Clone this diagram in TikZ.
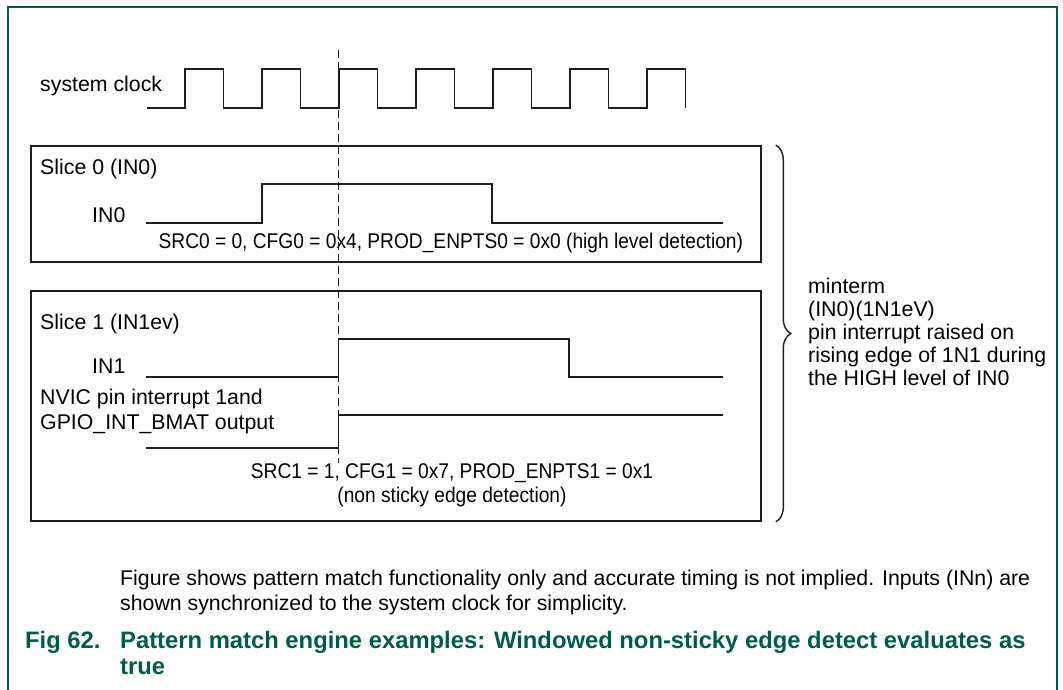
\documentclass[tikz,border=0pt]{standalone}
\usepackage{fontspec}
\setmainfont{Liberation Sans}
\newfontfamily\narrowfont[FakeStretch=0.9]{Liberation Sans}
\usepackage{xcolor}
\usepackage{tikz}
\usetikzlibrary{
  decorations.pathreplacing,
  calc
}
\definecolor{FrameGreen}{HTML}{005B4C}
\definecolor{WaveBlack}{HTML}{1E1E1E}
\newcommand{\diagfont}{\fontsize{21.3}{25}\selectfont}
\newcommand{\capfont}{\fontsize{23.8}{26}\selectfont\bfseries}
\tikzset{
  frame/.style={
    draw=FrameGreen,
    line width=1.5pt
  },
  slicebox/.style={
    draw=WaveBlack,
    line width=1.6pt,
    minimum width=730pt,
    inner sep=0pt
  },
  wave/.style={
    draw=WaveBlack,
    line width=1.5pt
  },
  marker/.style={
    draw=WaveBlack,
    line width=1.1pt,
    dash pattern=on 8pt off 4pt
  },
  bracket/.style={
    draw=WaveBlack,
    line width=1.4pt,
    decorate,
    decoration={brace,amplitude=15pt}
  },
  sig/.style={
    font=\diagfont,
    text=black,
    inner sep=0pt,
    anchor=base west
  },
  setting/.style={
    sig,
    anchor=base,
    align=center,
    font=\narrowfont\fontsize{21.3}{24}\selectfont
  },
  captext/.style={
    font=\capfont,
    text=FrameGreen,
    inner sep=0pt,
    anchor=base west
  }
}

\begin{document}
\begin{tikzpicture}[x=1pt,y=-1pt]

  \useasboundingbox (0,0) rectangle (1063,690);

  \draw[frame]
  (8,690) -- (8,7) -- (1057,7) -- (1057,690);

  % clock
  \node[sig] at (40,92) (clklabel) {system clock};

  \draw[wave]
  (147,108)
  \foreach \k in {0,...,6} {
    -- ({185+77*\k},108) -- ++(0,-39) -- ++(38.5,0) -- ++(0,39)
  };

  % slice 0
  \node[
    slicebox,
    minimum height=116pt
  ] at (396,204) (slice0) {};

  \node[sig] at (40,175) (slice0label) {Slice 0 (IN0)};
  \node[sig] at (92,222) (in0label) {IN0};

  \draw[wave]
  (146,223) -- (262,223) -- (262,184) --
  (492,184) -- (492,223) -- (723,223);

  \node[setting] at (453.5,248) (cfg0) {
    SRC0 = 0, CFG0 = 0x4, PROD\_ENPTS0 = 0x0 (high level detection)
  };

  % slice 1
  \node[
    slicebox,
    minimum height=230pt
  ] at (396,406) (slice1) {};

  \node[sig] at (40,329) (slice1label) {Slice 1 (IN1ev)};
  \node[sig] at (92,373) (in1label) {IN1};

  \draw[wave]
  (146,377) -- (338.5,377) -- (338.5,339) --
  (569,339) -- (569,377) -- (723,377);

  % last line sits on the anchor
  \node[
    sig,
    align=left
  ] at (40,429) (nviclabel) {
    NVIC pin interrupt 1and\\
    GPIO\_INT\_BMAT output
  };

  \draw[wave]
  (146,448) -- (338.5,448) -- (338.5,415) -- (723,415);

  \node[setting] at (452,502) (cfg1) {
    SRC1 = 1, CFG1 = 0x7, PROD\_ENPTS1 = 0x1\\
    (non sticky edge detection)
  };

  \coordinate (marktop) at (338.5,50);
  \coordinate (markbot) at (338.5,463);
  \draw[marker] (marktop) -- (markbot);

  % minterm
  \draw[bracket]
  ([xshift=14pt]slice0.north east) --
  ([xshift=14pt]slice1.south east);

  \node[
    sig,
    align=left,
    font=\fontsize{21.3}{23}\selectfont
  ] at (808,385) (minterm) {
    minterm\\
    (IN0)(1N1eV)\\
    pin interrupt raised on\\
    rising edge of 1N1 during\\
    the HIGH level of IN0
  };

  % notes
  \node[
    sig,
    align=left
  ] at (120,610) (note) {
    Figure shows pattern match functionality only and accurate timing is not implied. Inputs (INn) are\\
    shown synchronized to the system clock for simplicity.
  };

  \node[captext] at (25,648) (fignum) {Fig 62.};

  \node[
    captext,
    align=left
  ] at (120,674) (figtitle) {
    Pattern match engine examples: Windowed non-sticky edge detect evaluates as\\
    true
  };

\end{tikzpicture}
\end{document}
